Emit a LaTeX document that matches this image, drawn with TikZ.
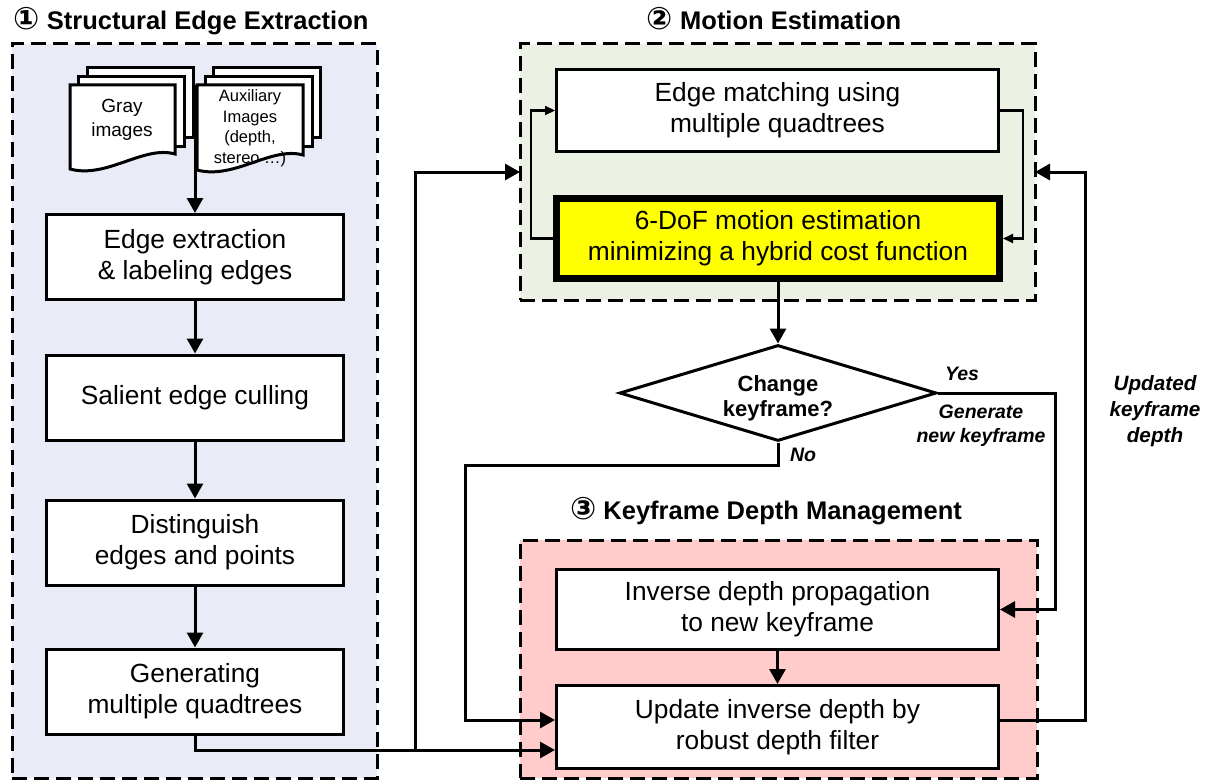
\documentclass[tikz,border=0pt]{standalone}
\usepackage{fontspec}
\setmainfont{Liberation Sans}
\newfontfamily\dejavu{DejaVu Sans}
\usetikzlibrary{arrows.meta,shapes.geometric,calc}
\definecolor{bluebg}{HTML}{E9ECF7}
\definecolor{greenbg}{HTML}{EBF1E3}
\definecolor{redbg}{HTML}{FFCBCB}
\definecolor{yel}{HTML}{FFFF00}
% front document page with wavy bottom: x1, top, x2, bottom-left
\newcommand{\mydocpage}[4]{%
  \draw[docline] (#1,#2) -- (#3,#2) -- (#3,#4-15)
    .. controls ({#3-0.3*(#3-#1)},#4-24) and ({#1+0.35*(#3-#1)},#4+10) .. (#1,#4) -- cycle;}
\begin{document}
\begin{tikzpicture}[x=1pt,y=-1pt,
  panel/.style={draw, line width=3pt, dash pattern=on 15pt off 7pt, inner sep=0pt, outer sep=0pt},
  box/.style={draw, line width=3pt, fill=white, inner sep=0pt, align=center,
    font=\fontsize{26.3}{31}\selectfont},
  lbox/.style={box, minimum width=297pt, minimum height=85pt},
  rbox/.style={box, minimum width=442pt},
  arr/.style={line width=3pt, -{Triangle[length=15pt,width=16pt]}},
  sarr/.style={line width=2.2pt, -{Triangle[length=10pt,width=9pt]}},
  ttl/.style={font=\fontsize{25.5}{30}\selectfont\bfseries, anchor=base},
  lab/.style={font=\fontsize{19.5}{24}\selectfont\bfseries\itshape, align=center},
  docline/.style={draw, line width=3pt, fill=white, line join=miter},
  doctext/.style={align=center, inner sep=0pt}
]
\useasboundingbox (0,0) rectangle (1210,781);

% panels
\node[panel, fill=bluebg, minimum width=365pt, minimum height=734pt] (p1) at (194.5,411) {};
\node[panel, fill=greenbg, minimum width=515pt, minimum height=256pt] (p2) at (777.5,172) {};
\node[panel, fill=redbg, minimum width=517pt, minimum height=238pt] (p3) at (778.5,659) {};

% titles
\node[ttl] (t1) at (191,30) {{\dejavu\fontsize{31}{30}\selectfont ①} Structural Edge Extraction};
\node[ttl] (t2) at (774,30) {{\dejavu\fontsize{31}{30}\selectfont ②} Motion Estimation};
\node[ttl] (t3) at (766,519) {{\dejavu\fontsize{31}{30}\selectfont ③} Keyframe Depth Management};

% left column boxes
\node[lbox] (ee) at (195,257) {Edge extraction\\\& labeling edges};
\node[lbox] (sc) at (195,397.5) {Salient edge culling};
\node[lbox] (de) at (195,542.5) {Distinguish\\edges and points};
\node[lbox] (gq) at (195,691.5) {Generating\\multiple quadtrees};

% document stacks
\coordinate (docjoin) at (195,85);
\draw[arr] (docjoin) -- (ee.north);
\draw[docline] (87,68) rectangle (193,138);
\draw[docline] (78,77) rectangle (184,147);
\mydocpage{70}{85}{175}{169}
\draw[docline] (213,68) rectangle (320,138);
\draw[docline] (205,77) rectangle (312,147);
\mydocpage{197}{85}{303}{170}
\node[doctext, font=\fontsize{19}{24}\selectfont] (gray) at (122,120) {Gray\\images};
\node[doctext, font=\fontsize{16.5}{20.5}\selectfont] (aux) at (250,128) {Auxiliary\\Images\\(depth,\\stereo …)};

% motion estimation boxes
\node[rbox, minimum height=82pt] (em) at (777.5,110.5) {Edge matching using\\multiple quadtrees};
\node[box, fill=yel, line width=7pt, minimum width=443pt, minimum height=80pt] (ye) at (778,238.5)
  {6-DoF motion estimation\\minimizing a hybrid cost function};

% keyframe boxes
\node[rbox, minimum height=80pt] (ip) at (777.5,609.5) {Inverse depth propagation\\to new keyframe};
\node[rbox, minimum height=83pt] (ud) at (777.5,727) {Update inverse depth by\\robust depth filter};

% decision
\node[draw, diamond, line width=3pt, fill=white, minimum width=317pt, minimum height=96pt,
  aspect=3, inner sep=0pt] (diam) at (778,393) {};
\node[align=center, inner sep=0pt, font=\fontsize{22}{25}\selectfont\bfseries] (dtext) at (778,398)
  {Change\\keyframe?};

% left column arrows
\draw[arr] (ee) -- (sc);
\draw[arr] (sc) -- (de);
\draw[arr] (de) -- (gq);

% loop inside motion estimation
\draw[sarr] (ye.west) -- ++(-22,0) |- (em.west);
\draw[sarr] (em.east) -- ++(23,0) |- (ye.east);

% motion -> decision
\draw[arr] (ye.south -| diam.north) -- (diam.north);

% yes branch
\draw[arr] (diam.east) -- ++(117,0) |- (ip.east);
% no branch
\coordinate (noA) at (778,465);
\coordinate (noB) at (465,465);
\draw[arr] (diam.south) -- (noA) -- (noB) |- ($(ud.west)+(0,-7)$);

% propagation -> update
\draw[arr] (ip) -- (ud);

% quadtrees -> update and -> motion
\draw[arr] (gq.south) |- ($(ud.west)+(0,23)$);
\coordinate (br) at (415,750);
\draw[arr] (br) |- (p2.west);

% updated keyframe depth feedback
\draw[arr] ($(ud.east)+(0,-7)$) -- ++(85,0) |- (p2.east);

% labels
\node[lab] (yes) at (962,374) {Yes};
\node[lab] (gen) at (981,426) {Generate\\new keyframe};
\node[lab] (no) at (803,455) {No};
\node[lab, font=\fontsize{20.7}{26}\selectfont\bfseries\itshape] (upd) at (1155,411) {Updated\\keyframe\\depth};
\end{tikzpicture}
\end{document}
